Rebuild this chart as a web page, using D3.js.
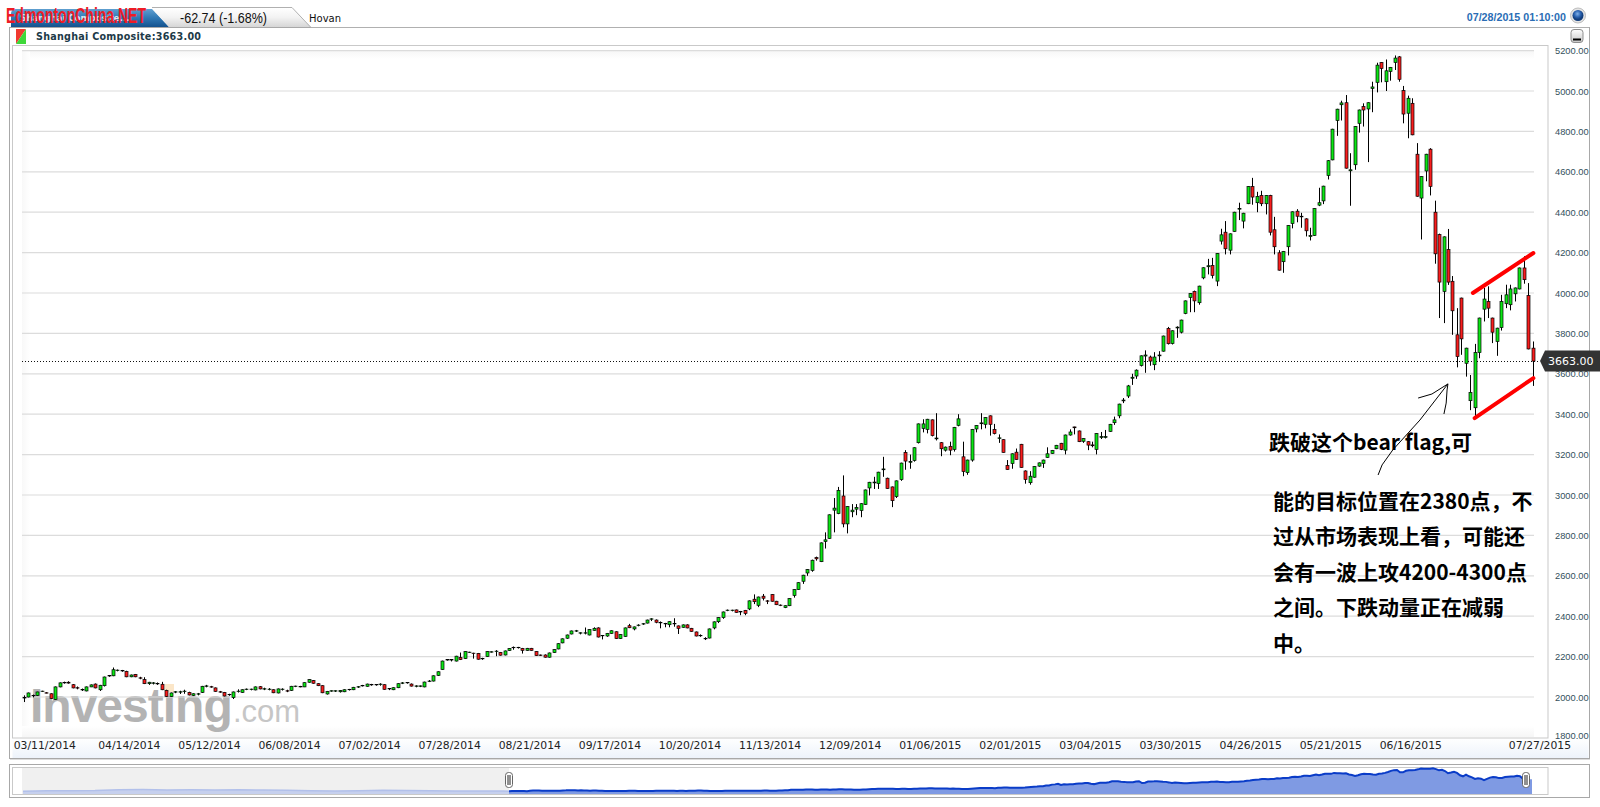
<!DOCTYPE html>
<html>
<head>
<meta charset="utf-8">
<script src="https://d3js.org/d3.v7.min.js"></script>
<style>
  body { margin: 0; background: #fff; }
  svg { display: block; }
  .yaxis text { font: 9.3px "Liberation Sans", sans-serif; fill: #33505c; }
  .xaxis text { font: 10.8px "DejaVu Sans", sans-serif; fill: #222; }
  .note { font: bold 21px "Noto Sans CJK SC", sans-serif; fill: #000; }
</style>
</head>
<body>
<svg id="chart" width="1600" height="807"></svg>
<script>
// candles, one column per trading day
const opens = [
  1995,2000,2006,2008,2028,2021,2016,1988,2050,2070,
  2073,2061,2046,2037,2030,2050,2064,2036,2056,2104,
  2105,2131,2129,2127,2100,2112,2095,2086,2066,2068,
  2067,2063,2033,2002,2024,2024,2027,2023,2008,2014,
  2023,2053,2051,2045,2026,2023,2011,1997,2027,2023,
  2037,2037,2035,2051,2039,2037,2036,2020,2037,2031,
  2033,2052,2052,2050,2073,2081,2066,2056,2015,2029,
  2029,2026,2026,2036,2036,2049,2055,2053,2060,2060,
  2062,2061,2040,2036,2046,2068,2070,2064,2053,2053,
  2050,2077,2079,2107,2136,2183,2183,2178,2195,2190,
  2220,2217,2216,2191,2200,2222,2225,2221,2208,2230,
  2244,2244,2240,2231,2241,2225,2208,2208,2197,2220,
  2238,2268,2291,2312,2326,2316,2316,2307,2330,2342,
  2303,2302,2315,2323,2289,2300,2353,2337,2354,2361,
  2366,2385,2381,2369,2362,2358,2362,2352,2345,2357,
  2340,2322,2305,2290,2292,2342,2373,2393,2428,2428,
  2431,2423,2429,2436,2484,2454,2499,2476,2507,2474,
  2455,2443,2452,2503,2532,2573,2614,2627,2690,2670,
  2770,2785,2925,2908,2995,2857,2917,2930,2923,2953,
  3035,3060,3057,3125,3083,3040,2992,3076,3211,3162,
  3171,3259,3330,3325,3372,3278,3259,3222,3241,3226,
  3345,3189,3111,3173,3327,3353,3350,3392,3325,3280,
  3274,3146,3156,3212,3251,3119,3061,3088,3143,3156,
  3186,3206,3229,3256,3222,3297,3337,3317,3266,3264,
  3248,3226,3285,3285,3315,3358,3392,3466,3490,3578,
  3589,3641,3688,3683,3645,3689,3712,3825,3750,3827,
  3806,3899,3978,4008,3952,4075,4130,4136,4059,4257,
  4301,4212,4305,4415,4356,4442,4527,4447,4483,4442,
  4483,4313,4199,4155,4229,4344,4405,4380,4367,4279,
  4285,4435,4456,4582,4659,4854,4932,4942,4605,4635,
  4840,4923,4911,5013,5043,5141,5046,5097,5141,5169,
  5002,4890,4939,4687,4470,4604,4712,4400,4289,4008,
  4215,4058,3793,3975,3652,3467,3432,3705,3920,3958,
  3876,3760,3829,3947,3942,3996,4020,4124,3987,3727
]
const highs = [
  2008,2022,2012,2026,2031,2024,2018,2052,2072,2076,
  2078,2064,2052,2042,2052,2062,2067,2060,2101,2109,
  2146,2136,2134,2130,2111,2114,2100,2098,2075,2074,
  2072,2075,2036,2022,2029,2031,2036,2026,2018,2020,
  2055,2060,2055,2047,2030,2025,2016,2027,2038,2038,
  2042,2041,2052,2054,2046,2044,2038,2042,2043,2036,
  2055,2056,2055,2073,2088,2084,2068,2058,2030,2033,
  2033,2034,2038,2040,2050,2054,2060,2066,2065,2064,
  2068,2063,2044,2048,2068,2074,2074,2067,2058,2057,
  2076,2084,2107,2127,2180,2187,2186,2204,2220,2227,
  2224,2219,2218,2194,2227,2226,2232,2223,2230,2242,
  2250,2248,2243,2243,2243,2227,2210,2211,2220,2237,
  2266,2290,2309,2329,2332,2320,2344,2336,2345,2345,
  2307,2317,2330,2325,2311,2344,2362,2349,2360,2366,
  2383,2390,2384,2374,2367,2375,2390,2354,2359,2360,
  2342,2324,2310,2296,2339,2374,2395,2423,2433,2432,
  2433,2426,2431,2478,2508,2497,2510,2480,2509,2476,
  2458,2454,2489,2534,2568,2605,2633,2680,2695,2765,
  2815,2904,2985,3040,3097,2945,2955,2955,2959,3027,
  3065,3090,3115,3189,3086,3042,3072,3160,3222,3200,
  3236,3354,3375,3377,3374,3405,3262,3240,3264,3337,
  3400,3264,3175,3327,3346,3405,3385,3394,3352,3300,
  3276,3173,3206,3230,3253,3122,3118,3143,3161,3175,
  3236,3223,3248,3258,3299,3325,3338,3319,3281,3266,
  3264,3306,3312,3322,3352,3388,3452,3480,3545,3600,
  3622,3691,3716,3690,3707,3712,3789,3832,3815,3835,
  3868,3963,4000,4012,4036,4127,4169,4174,4198,4318,
  4356,4295,4402,4447,4397,4529,4570,4501,4506,4485,
  4486,4377,4212,4208,4336,4404,4415,4397,4370,4323,
  4420,4521,4531,4658,4813,4912,4952,4980,4692,4826,
  4908,4939,4944,5046,5140,5143,5156,5119,5176,5173,
  5025,4977,4964,4742,4578,4689,4717,4457,4294,4280,
  4317,4084,3925,3977,3729,3594,3748,3878,4025,4033,
  3878,3828,3991,4041,4041,4027,4126,4182,4049,3760
]
const lows = [
  1975,1998,1998,2005,2026,2018,1990,1986,2048,2066,
  2066,2043,2038,2030,2028,2049,2043,2030,2052,2100,
  2103,2127,2125,2098,2098,2098,2088,2064,2060,2062,
  2060,2034,2001,2000,2019,2015,2016,2008,2005,2008,
  2020,2048,2046,2026,2021,2003,2006,1990,2022,2021,
  2034,2033,2033,2038,2034,2033,2019,2018,2032,2024,
  2030,2049,2048,2049,2071,2066,2054,2019,2012,2026,
  2025,2022,2024,2032,2034,2045,2052,2051,2056,2056,
  2056,2036,2034,2034,2044,2064,2066,2052,2048,2049,
  2048,2074,2077,2104,2134,2180,2176,2176,2183,2188,
  2218,2190,2185,2184,2198,2220,2202,2205,2206,2228,
  2234,2240,2215,2229,2229,2203,2203,2195,2195,2218,
  2236,2266,2288,2310,2322,2310,2310,2305,2328,2295,
  2285,2298,2313,2287,2287,2298,2341,2330,2350,2357,
  2364,2376,2365,2340,2345,2345,2348,2312,2343,2340,
  2323,2300,2298,2282,2290,2335,2366,2387,2425,2424,
  2417,2405,2405,2430,2460,2445,2478,2460,2472,2455,
  2450,2440,2450,2492,2530,2560,2600,2620,2675,2668,
  2735,2783,2815,2905,2840,2810,2890,2900,2890,2951,
  2998,3030,3030,3090,3030,2940,2985,3070,3125,3130,
  3165,3255,3310,3305,3290,3270,3192,3215,3197,3215,
  3340,3093,3100,3165,3310,3325,3330,3294,3300,3258,
  3210,3125,3130,3175,3135,3056,3051,3086,3140,3134,
  3184,3204,3227,3222,3201,3294,3300,3262,3258,3222,
  3236,3201,3277,3280,3313,3347,3380,3455,3480,3545,
  3575,3636,3605,3640,3618,3660,3710,3745,3745,3778,
  3800,3895,3905,3905,3942,4068,4092,4072,4034,4240,
  4191,4191,4303,4361,4320,4440,4437,4400,4430,4389,
  4285,4191,4111,4100,4186,4320,4350,4323,4280,4260,
  4283,4430,4440,4562,4657,4778,4854,4616,4432,4610,
  4794,4824,4648,4895,4993,5043,5000,5051,5104,5046,
  4840,4766,4781,4477,4265,4553,4483,4145,3876,3851,
  4040,3793,3632,3694,3586,3420,3387,3677,3859,3876,
  3752,3689,3814,3925,3914,3958,4018,4046,3721,3540
]
const closes = [
  1997,2020,2008,2025,2029,2019,1992,2050,2070,2072,
  2069,2045,2044,2035,2050,2060,2045,2058,2099,2106,
  2135,2133,2131,2100,2109,2100,2093,2066,2073,2070,
  2065,2036,2003,2020,2026,2026,2029,2010,2016,2016,
  2053,2055,2049,2028,2024,2005,2013,2025,2029,2036,
  2039,2039,2050,2040,2041,2039,2021,2040,2039,2029,
  2053,2054,2050,2071,2086,2068,2056,2021,2028,2031,
  2031,2032,2036,2038,2048,2051,2057,2064,2062,2062,
  2064,2038,2042,2046,2066,2070,2072,2054,2055,2055,
  2074,2079,2105,2125,2178,2185,2185,2202,2185,2225,
  2222,2215,2187,2189,2225,2224,2227,2207,2228,2240,
  2246,2246,2231,2241,2231,2205,2206,2197,2218,2235,
  2264,2288,2307,2327,2328,2318,2318,2334,2340,2297,
  2305,2315,2328,2289,2309,2342,2343,2347,2356,2363,
  2381,2387,2370,2367,2364,2373,2364,2340,2357,2342,
  2325,2302,2303,2288,2337,2372,2393,2421,2430,2430,
  2419,2421,2414,2476,2472,2495,2489,2474,2474,2457,
  2453,2452,2487,2532,2566,2603,2631,2677,2684,2763,
  2778,2902,2935,3023,2857,2943,2925,2938,2957,3025,
  3063,3064,3113,3129,3032,2972,3070,3158,3168,3166,
  3234,3352,3352,3375,3294,3282,3229,3237,3222,3335,
  3377,3116,3173,3325,3344,3357,3383,3350,3304,3283,
  3211,3126,3204,3176,3136,3076,3093,3141,3159,3173,
  3204,3221,3246,3226,3297,3312,3333,3264,3279,3247,
  3244,3304,3289,3289,3350,3372,3450,3470,3540,3583,
  3618,3689,3693,3663,3683,3693,3787,3749,3813,3831,
  3866,3961,3998,3961,4034,4125,4135,4087,4196,4288,
  4219,4293,4400,4419,4395,4527,4475,4478,4442,4483,
  4301,4229,4113,4206,4334,4402,4380,4377,4308,4284,
  4418,4447,4529,4655,4811,4910,4941,4618,4610,4824,
  4906,4906,4942,5020,5128,5112,5100,5117,5163,5058,
  4886,4964,4783,4479,4576,4687,4528,4194,4054,4278,
  4054,3912,3685,3773,3727,3508,3705,3876,3970,3925,
  3806,3826,3958,3991,4020,4025,4124,4066,3723,3663
]

const priceTicks = [1800,2000,2200,2400,2600,2800,3000,3200,3400,3600,3800,4000,4200,4400,4600,4800,5000,5200]
const dateLabels = ["03/11/2014","04/14/2014","05/12/2014","06/08/2014","07/02/2014","07/28/2014","08/21/2014","09/17/2014","10/20/2014","11/13/2014","12/09/2014","01/06/2015","02/01/2015","03/04/2015","03/30/2015","04/26/2015","05/21/2015","06/16/2015","07/27/2015"]
const dateIndex = [5,24,42,60,78,96,114,132,150,168,186,204,222,240,258,276,294,312,341]
const lastPrice = 3663

// older history in the navigator strip, left of the selected range
const historyDays = [-162,-154,-146,-138,-130,-122,-114,-106,-98,-90,-82,-74,-66,-58,-50,-42,-34,-26,-18,-10,-2]
const historyValues = [1990,2040,2060,2090,2200,2210,2170,2190,2140,2200,2140,2110,2040,2030,2060,2130,2100,2040,2020,2000,2000]

// hand drawn marks on the chart, [candle index, price]
const flagTop = [[325.6,4000],[339.2,4198]]
const flagBottom = [[326,3381],[339.2,3579]]
const arrowShaft = [[304.3,3099],[305.2,3149],[307.6,3223],[313.7,3371],[320,3550]]
const arrowBarbA = [[313.3,3480],[316.4,3500],[320,3550]]
const arrowBarbB = [[319.1,3401],[319.6,3455],[319.8,3520],[320,3550]]

const noteLines = ["跌破这个bear flag,可","能的目标位置在2380点，不","过从市场表现上看，可能还","会有一波上攻4200-4300点","之间。下跌动量正在减弱","中。"]

const svg = d3.select("#chart")
const days = d3.range(closes.length)

const x = d3.scaleLinear().domain([0, closes.length - 1]).range([24, 1532.5])
const y = d3.scaleLinear().domain([1800, 5200]).range([737.4, 50.6])
const miniX = d3.scaleLinear().domain([0, closes.length - 1]).range([509, 1526])
const miniY = d3.scaleLinear().domain([1600, 5166]).range([794, 768.3])

// gradients
let defs = svg.append("defs")
function gradient(id, vertical, stops) {
  let g = defs.append("linearGradient").attr("id", id)
    .attr("x1", 0).attr("y1", 0).attr("x2", vertical ? 0 : 1).attr("y2", vertical ? 1 : 0)
  stops.forEach(s => g.append("stop").attr("offset", s[0]).attr("stop-color", s[1]))
}
gradient("blueTab", true, [[0, "#5f9fd0"], [0.5, "#2f78b4"], [1, "#14528e"]])
gradient("greyTab", true, [[0, "#ffffff"], [0.5, "#f2f2f2"], [1, "#d6d6d6"]])
gradient("band", true, [[0, "#ffffff"], [1, "#edf3fb"]])
gradient("fadeTop", true, [[0, "#f6f6f6"], [1, "#ffffff"]])
gradient("fadeLeft", false, [[0, "#f8f8f8"], [1, "#ffffff"]])
gradient("fadeBottom", true, [[0, "#ffffff"], [1, "#f6f6f6"]])
gradient("button", true, [[0, "#ffffff"], [1, "#c8c8c8"]])
let globe = defs.append("radialGradient").attr("id", "globe").attr("cx", 0.45).attr("cy", 0.35)
globe.append("stop").attr("offset", 0).attr("stop-color", "#7fb0e8")
globe.append("stop").attr("offset", 0.6).attr("stop-color", "#2a62b0")
globe.append("stop").attr("offset", 1).attr("stop-color", "#123e7c")

// panels
svg.append("rect").attr("x", 9.5).attr("y", 27.5).attr("width", 1580).attr("height", 731)
  .attr("fill", "#fff").attr("stroke", "#a8a8a8")
svg.append("line").attr("x1", 10).attr("x2", 1590).attr("y1", 759.5).attr("y2", 759.5).attr("stroke", "#dcdcdc")
svg.append("rect").attr("x", 12.5).attr("y", 738).attr("width", 1576).attr("height", 20).attr("fill", "url(#band)")
svg.append("rect").attr("x", 12.5).attr("y", 45.5).attr("width", 1535.5).attr("height", 692.5)
  .attr("fill", "#fff").attr("stroke", "#c9c9c9")

// plot fades
svg.append("rect").attr("x", 22).attr("y", 50).attr("width", 1512).attr("height", 9).attr("fill", "url(#fadeTop)")
svg.append("rect").attr("x", 22).attr("y", 50).attr("width", 8).attr("height", 687).attr("fill", "url(#fadeLeft)")
svg.append("rect").attr("x", 22).attr("y", 726).attr("width", 1512).attr("height", 11).attr("fill", "url(#fadeBottom)")

// tabs
svg.append("path").attr("d", "M11,27 L11,14 Q11,9 16,9 L152,9 L169,27 Z").attr("fill", "url(#blueTab)")
svg.append("text").attr("x", 20).attr("y", 21).attr("font-family", "DejaVu Sans").attr("font-size", 8.6)
  .attr("font-weight", "bold").attr("fill", "#dfe8f2").text("Shanghai Composite...")
svg.append("path").attr("d", "M152,8 L292,8 L311,27 L169,27 Z").attr("fill", "url(#greyTab)")
svg.append("path").attr("d", "M152,7.5 L292,7.5 L311,27.5 L1589,27.5").attr("fill", "none").attr("stroke", "#b0b0b0")
svg.append("text").attr("x", 180).attr("y", 22.5).attr("font-family", "Liberation Sans").attr("font-size", 14)
  .attr("fill", "#111").attr("textLength", 87).attr("lengthAdjust", "spacingAndGlyphs").text("-62.74 (-1.68%)")
svg.append("text").attr("x", 309).attr("y", 21.5).attr("font-family", "DejaVu Sans").attr("font-size", 10)
  .attr("fill", "#111").text("Hovan")
svg.append("text").attr("x", 6).attr("y", 22.5).attr("font-family", "Liberation Sans Narrow, Liberation Sans").attr("font-size", 22)
  .attr("font-weight", "bold").attr("fill", "#ee1c25").attr("textLength", 140).attr("lengthAdjust", "spacingAndGlyphs").text("EdmontonChina.NET")

// top right clock
svg.append("text").attr("x", 1566).attr("y", 20.5).attr("text-anchor", "end").attr("font-family", "Liberation Sans")
  .attr("font-size", 10.7).attr("font-weight", "bold").attr("fill", "#2a6db5").text("07/28/2015 01:10:00")
svg.append("circle").attr("cx", 1578).attr("cy", 15.5).attr("r", 7.5).attr("fill", "#e4e4e4").attr("stroke", "#bdbdbd")
svg.append("circle").attr("cx", 1578).attr("cy", 15.5).attr("r", 5.5).attr("fill", "url(#globe)")
svg.append("rect").attr("x", 1571).attr("y", 29.5).attr("width", 12).attr("height", 13).attr("rx", 3)
  .attr("fill", "url(#button)").attr("stroke", "#8f8f8f")
svg.append("rect").attr("x", 1573).attr("y", 38.5).attr("width", 8).attr("height", 2).attr("fill", "#000")

// title
svg.append("path").attr("d", "M16,29 L26,29 L16,44 Z").attr("fill", "#f03a30")
svg.append("path").attr("d", "M26,29 L26,44 L16,44 Z").attr("fill", "#3ed83a")
svg.append("text").attr("x", 36).attr("y", 40).attr("font-family", "DejaVu Sans").attr("font-size", 9.6)
  .attr("font-weight", "bold").attr("fill", "#1c3a48").attr("textLength", 165).text("Shanghai Composite:3663.00")

// watermark sits under the candles
svg.append("text").attr("x", 30).attr("y", 722).attr("font-family", "Liberation Sans").attr("font-size", 48)
  .attr("font-weight", "bold").attr("letter-spacing", -1).attr("fill", "#b3b3b3").text("Investing")
svg.append("text").attr("x", 233).attr("y", 722).attr("font-family", "Liberation Sans").attr("font-size", 31)
  .attr("fill", "#c6c6c6").text(".com")
svg.append("rect").attr("x", 165).attr("y", 684).attr("width", 9).attr("height", 8).attr("fill", "#fbe6c8")

// grid
svg.append("g").selectAll("line").data(priceTicks.filter(d => d > 1800)).join("line")
  .attr("x1", 22).attr("x2", 1534)
  .attr("y1", d => y(d)).attr("y2", d => y(d))
  .attr("stroke", "#dcdcdc").attr("stroke-width", 1.2)

// axes
let yAxis = d3.axisRight(y).tickValues(priceTicks).tickSize(0).tickPadding(0).tickFormat(d3.format(".2f"))
let yAxisG = svg.append("g").attr("class", "yaxis").attr("transform", "translate(1555,0)").call(yAxis)
yAxisG.select(".domain").remove()
yAxisG.selectAll("text").attr("dy", "0.33em")
yAxisG.selectAll(".tick").filter(d => d === 1800).select("text").attr("dy", "0.1em") // last label sits a bit higher

let xAxis = d3.axisBottom(x).tickValues(dateIndex).tickSize(0).tickPadding(0)
  .tickFormat(d => dateLabels[dateIndex.indexOf(d)])
let xAxisG = svg.append("g").attr("class", "xaxis").attr("transform", "translate(-2,741)").call(xAxis)
xAxisG.select(".domain").remove()

// price line
svg.append("line").attr("x1", 22).attr("x2", 1540)
  .attr("y1", Math.round(y(lastPrice)) + 0.5).attr("y2", Math.round(y(lastPrice)) + 0.5)
  .attr("stroke", "#111").attr("stroke-dasharray", "1,2")

// candles
let candle = svg.append("g").selectAll("g").data(days).join("g")
candle.append("line")
  .attr("x1", i => Math.round(x(i)) + 0.5).attr("x2", i => Math.round(x(i)) + 0.5)
  .attr("y1", i => y(highs[i])).attr("y2", i => y(lows[i]))
  .attr("stroke", "#000")
candle.append("rect")
  .attr("x", i => Math.round(x(i)) - 1)
  .attr("width", 3)
  .attr("y", i => y(Math.max(opens[i], closes[i])))
  .attr("height", i => Math.abs(y(opens[i]) - y(closes[i])))
  .attr("fill", i => closes[i] > opens[i] ? "#0be614" : "#f81e1e")
  .attr("stroke", "#000")
  .attr("stroke-width", 0.7)

// last price flag
let flagY = y(lastPrice)
svg.append("path")
  .attr("d", `M1540,${flagY} L1545,${flagY - 10.5} L1600,${flagY - 10.5} L1600,${flagY + 10.5} L1545,${flagY + 10.5} Z`)
  .attr("fill", "#333")
svg.append("text").attr("x", 1548).attr("y", flagY + 4).attr("font-family", "DejaVu Sans").attr("font-size", 11)
  .attr("fill", "#fff").text(lastPrice.toFixed(2))

// bear flag channel and arrow
let markLine = d3.line().x(d => x(d[0])).y(d => y(d[1]))
svg.selectAll(".flag").data([flagTop, flagBottom]).join("path").attr("class", "flag")
  .attr("d", markLine).attr("fill", "none").attr("stroke", "#ff0000")
  .attr("stroke-width", 4).attr("stroke-linecap", "round")
svg.selectAll(".arrow").data([arrowShaft, arrowBarbA, arrowBarbB]).join("path").attr("class", "arrow")
  .attr("d", markLine).attr("fill", "none").attr("stroke", "#000").attr("stroke-width", 1)

// note
let noteX = [1269, 1273, 1273, 1273, 1273, 1273]
let noteY = [450, 509, 544, 580, 615, 651]
svg.selectAll(".note").data(noteLines).join("text").attr("class", "note")
  .attr("x", (d, i) => noteX[i]).attr("y", (d, i) => noteY[i]).text(d => d)

// navigator strip
svg.append("rect").attr("x", 9.5).attr("y", 764.5).attr("width", 1580).attr("height", 33)
  .attr("fill", "#fff").attr("stroke", "#a8a8a8")
svg.append("rect").attr("x", 12.5).attr("y", 767.5).attr("width", 1535.5).attr("height", 27)
  .attr("fill", "#fff").attr("stroke", "#c9c9c9")
svg.append("rect").attr("x", 22).attr("y", 768).attr("width", 487).attr("height", 26).attr("fill", "#f0f0f0")

let oldPoints = historyDays.map((d, i) => [d, historyValues[i]]).concat([[0, closes[0]]])
let newPoints = closes.map((d, i) => [i, d])
let miniArea = d3.area().x(d => miniX(d[0])).y0(794).y1(d => miniY(d[1]))
let miniLine = d3.line().x(d => miniX(d[0])).y(d => miniY(d[1]))
svg.append("path").attr("d", miniArea(oldPoints)).attr("fill", "#c6d0ee")
svg.append("path").attr("d", miniLine(oldPoints)).attr("fill", "none").attr("stroke", "#b2c0ea").attr("stroke-width", 1.5)
svg.append("path").attr("d", miniArea(newPoints.concat([[341, closes[339]]]))).attr("fill", "#7f9ae3")
svg.append("path").attr("d", miniLine(newPoints)).attr("fill", "none").attr("stroke", "#0a3cc8").attr("stroke-width", 2)

// slider handles
let handles = svg.selectAll(".handle").data([0, closes.length - 1]).join("g").attr("class", "handle")
handles.append("rect").attr("x", d => miniX(d) - 3.5).attr("y", 772.5).attr("width", 7).attr("height", 15).attr("rx", 3)
  .attr("fill", "#fff").attr("stroke", "#666")
handles.append("line").attr("x1", d => miniX(d) - 1).attr("x2", d => miniX(d) - 1).attr("y1", 775).attr("y2", 785).attr("stroke", "#222")
handles.append("line").attr("x1", d => miniX(d) + 1).attr("x2", d => miniX(d) + 1).attr("y1", 775).attr("y2", 785).attr("stroke", "#222")
</script>
</body>
</html>
